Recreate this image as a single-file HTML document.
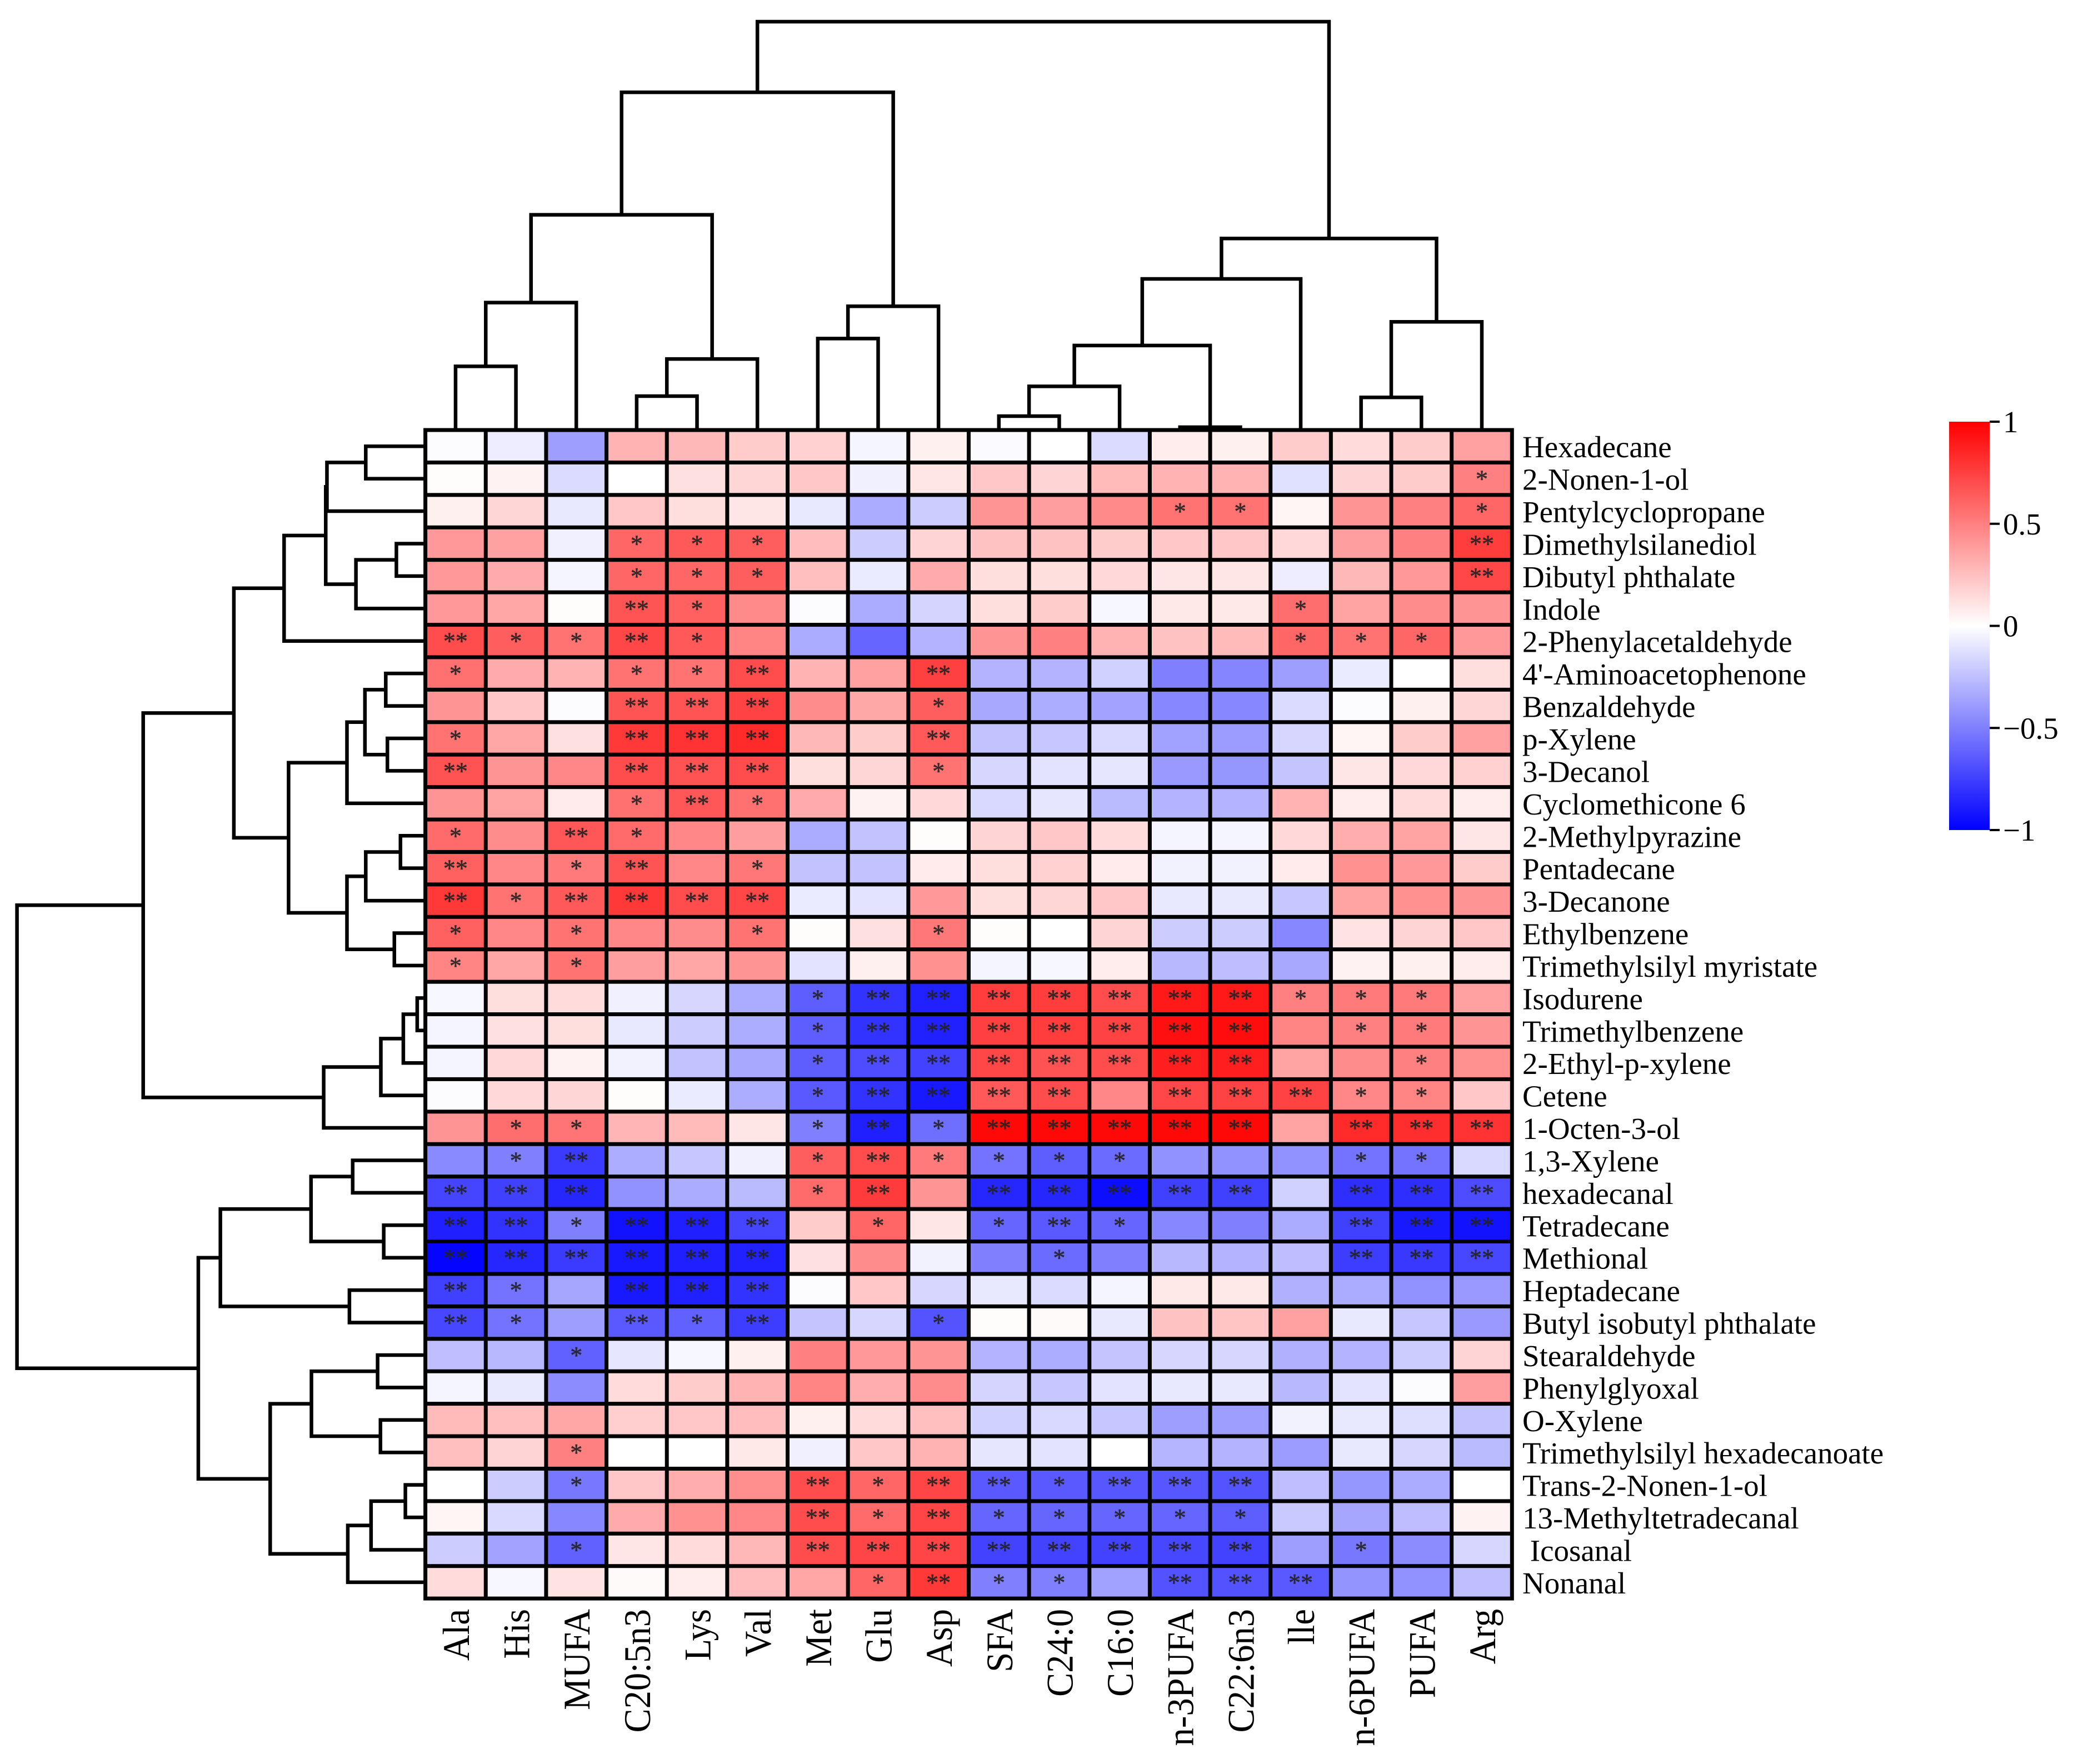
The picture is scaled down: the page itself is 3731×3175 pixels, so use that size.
<!DOCTYPE html>
<html>
<head>
<meta charset="utf-8">
<title>Clustered correlation heatmap</title>
<style>
html,body{margin:0;padding:0;background:#fff;}
svg{display:block;}
text{font-family:"Liberation Serif",serif;fill:#000;}
.rowl{font-size:55px;white-space:pre;}
.coll{font-size:68px;}
.tick{font-size:55px;}
.star{font-size:44px;fill:#222;fill-opacity:.9;stroke:#222;stroke-opacity:.7;stroke-width:.7px;text-anchor:middle;}
</style>
</head>
<body>
<svg id="chart" xmlns="http://www.w3.org/2000/svg" width="3731" height="3175" viewBox="0 0 3731 3175">
  <defs>
    <linearGradient id="cbgrad" x1="0" y1="0" x2="0" y2="1">
      <stop offset="0" stop-color="#ff0000"/>
      <stop offset="0.5" stop-color="#ffffff"/>
      <stop offset="1" stop-color="#0000ff"/>
    </linearGradient>
  </defs>
  <rect x="0" y="0" width="3731" height="3175" fill="#ffffff"/>
  <g id="topDendro"></g>
  <g id="leftDendro"></g>
  <g id="cells"></g>
  <g id="rowLabels"></g>
  <g id="colLabels"></g>
  <g id="colorbar"></g>
</svg>
<script>
const rowNames = ["Hexadecane","2-Nonen-1-ol","Pentylcyclopropane","Dimethylsilanediol","Dibutyl phthalate","Indole","2-Phenylacetaldehyde","4'-Aminoacetophenone","Benzaldehyde","p-Xylene","3-Decanol","Cyclomethicone 6","2-Methylpyrazine","Pentadecane","3-Decanone","Ethylbenzene","Trimethylsilyl myristate","Isodurene","Trimethylbenzene","2-Ethyl-p-xylene","Cetene","1-Octen-3-ol","1,3-Xylene","hexadecanal","Tetradecane","Methional","Heptadecane","Butyl isobutyl phthalate","Stearaldehyde","Phenylglyoxal","O-Xylene","Trimethylsilyl hexadecanoate","Trans-2-Nonen-1-ol","13-Methyltetradecanal"," Icosanal","Nonanal"];
const colNames = ["Ala","His","MUFA","C20:5n3","Lys","Val","Met","Glu","Asp","SFA","C24:0","C16:0","n-3PUFA","C22:6n3","lle","n-6PUFA","PUFA","Arg"];
const corrValues = [
[-.01,-.07,-.38,.3,.28,.2,.18,-.04,.06,-.02,0,-.14,.07,.06,.2,.14,.2,.37],
[.01,.05,-.14,0,.12,.16,.22,-.06,.1,.22,.17,.27,.3,.3,-.12,.17,.2,.5],
[.06,.16,-.09,.22,.13,.1,-.09,-.33,-.2,.42,.38,.46,.55,.55,.04,.42,.5,.6],
[.4,.37,-.06,.6,.65,.63,.26,-.2,.17,.24,.24,.2,.22,.22,.15,.38,.5,.76],
[.4,.33,-.04,.6,.6,.63,.25,-.08,.33,.13,.13,.15,.1,.1,-.07,.28,.4,.72],
[.4,.35,.01,.67,.62,.46,-.01,-.33,-.17,.13,.2,-.03,.09,.09,.57,.36,.45,.42],
[.7,.63,.55,.72,.65,.48,-.33,-.6,-.3,.42,.5,.3,.24,.27,.6,.55,.6,.4],
[.56,.33,.3,.55,.55,.7,.3,.37,.75,-.3,-.3,-.18,-.5,-.48,-.38,-.08,0,.13],
[.42,.22,-.01,.67,.67,.74,.45,.34,.63,-.34,-.32,-.36,-.47,-.47,-.14,-.01,.06,.16],
[.55,.35,.12,.78,.8,.83,.28,.2,.65,-.24,-.22,-.15,-.37,-.39,-.16,.04,.2,.37],
[.68,.42,.47,.7,.68,.7,.13,.16,.55,-.16,-.11,-.1,-.4,-.41,-.23,.1,.15,.18],
[.42,.36,.08,.56,.66,.56,.33,.05,.15,-.15,-.1,-.27,-.3,-.3,.3,.07,.14,.07],
[.58,.45,.66,.58,.47,.38,-.33,-.24,.01,.17,.22,.14,-.04,-.04,.15,.32,.36,.1],
[.62,.47,.52,.67,.47,.53,-.24,-.24,.08,.13,.18,.08,-.05,-.05,.08,.43,.4,.2],
[.78,.55,.65,.78,.7,.72,-.08,-.11,.4,.13,.16,.22,-.09,-.09,-.22,.36,.43,.42],
[.62,.47,.55,.47,.45,.55,.01,.12,.53,.01,0,.17,-.2,-.2,-.47,.11,.17,.22],
[.48,.35,.55,.38,.35,.42,-.11,.06,.43,-.04,-.03,.07,-.28,-.26,-.34,.05,.06,.07],
[-.03,.13,.14,-.06,-.16,-.33,-.63,-.8,-.87,.76,.76,.7,.9,.9,.5,.52,.52,.37],
[-.04,.12,.13,-.09,-.2,-.32,-.63,-.8,-.87,.75,.76,.74,.94,.95,.48,.5,.52,.42],
[-.04,.15,.05,-.05,-.24,-.34,-.63,-.7,-.74,.72,.68,.7,.88,.88,.36,.45,.5,.43],
[-.01,.15,.16,.01,-.08,-.32,-.65,-.8,-.9,.65,.7,.47,.72,.74,.74,.47,.48,.22],
[.42,.57,.54,.29,.27,.1,-.5,-.88,-.57,.97,.97,.97,.97,.97,.36,.83,.82,.8],
[-.46,-.5,-.77,-.32,-.22,-.06,.63,.7,.52,-.55,-.63,-.58,-.43,-.43,-.43,-.55,-.55,-.15],
[-.73,-.75,-.85,-.43,-.33,-.27,.58,.77,.42,-.85,-.85,-.95,-.75,-.75,-.18,-.82,-.82,-.7],
[-.88,-.8,-.5,-.93,-.88,-.73,.2,.6,.1,-.6,-.65,-.6,-.47,-.5,-.33,-.75,-.9,-.93],
[-.98,-.85,-.77,-.9,-.88,-.87,.12,.45,-.05,-.5,-.58,-.5,-.28,-.3,-.26,-.76,-.78,-.72],
[-.75,-.55,-.35,-.9,-.87,-.8,-.01,.22,-.16,-.09,-.14,-.04,.09,.09,-.31,-.33,-.43,-.4],
[-.72,-.55,-.38,-.65,-.62,-.76,-.23,-.16,-.67,.01,.02,-.09,.24,.23,.37,-.09,-.22,-.4],
[-.25,-.28,-.62,-.1,-.03,.06,.5,.4,.42,-.3,-.32,-.23,-.16,-.16,-.31,-.3,-.2,.17],
[-.04,-.09,-.45,.14,.2,.3,.48,.32,.45,-.17,-.22,-.11,-.09,-.09,-.28,-.11,-.01,.38],
[.27,.25,.35,.19,.22,.26,.06,.14,.25,-.18,-.15,-.22,-.38,-.38,-.05,-.09,-.13,-.24],
[.25,.17,.5,0,0,.09,-.06,.22,.3,-.1,-.11,0,-.29,-.3,-.39,-.09,-.16,-.27],
[0,-.2,-.53,.22,.32,.44,.7,.6,.73,-.65,-.65,-.66,-.66,-.67,-.25,-.41,-.33,0],
[.04,-.15,-.47,.33,.43,.47,.7,.58,.73,-.6,-.6,-.6,-.6,-.63,-.21,-.35,-.26,.05],
[-.2,-.36,-.62,.1,.14,.28,.7,.73,.73,-.74,-.74,-.74,-.72,-.74,-.38,-.53,-.45,-.16],
[.14,-.03,.11,.02,.07,.26,.35,.6,.78,-.5,-.5,-.37,-.68,-.68,-.65,-.42,-.43,-.25]
];
const sigCodes = [
"000000000000000000","000000000000000001","000000000000110001","000111000000000002",
"000111000000000002","000210000000001000","211210000000001110","100112002000000000",
"000222001000000000","100222002000000000","200222001000000000","000121000000000000",
"102100000000000000","201201000000000000","212222000000000000","101001001000000000",
"101000000000000000","000000122222221110","000000122222220110","000000122222220010",
"000000122220222110","011000121222220222","012000121111000110","222000120222220222",
"221222010121000222","222222000010000222","210222000000000000","210212001000000000",
"001000000000000000","000000000000000000","000000000000000000","001000000000000000",
"001000212212220000","000000212111110000","001000222222220100","000000012110222000"
];
/* column dendrogram: numeric ids are leaves, letters are merges defined earlier in the list */
const colMergeNames  = ["a","b","c","d","e","f","g","h","i","j","k","l","m","n","o","p","q"];
const colMergeLeft   = ["0","a","3","c","b","6","f","e","9","i","12","j","l","15","n","m","h"];
const colMergeRight  = ["1","2","4","5","d","7","8","g","10","11","13","k","14","16","17","o","p"];
const colMergeHeight = [.156,.312,.083,.174,.527,.224,.303,.827,.034,.107,.007,.207,.370,.080,.265,.469,1];
/* row dendrogram */
const rowMergeNames = ["A","B","C","D","E","F","G","H","I","J","K","N","L","M","O","P","R","S","T","U","V","W","X","Y","Z","AA","AB","AC","AD","AE","AF","AG","AH","AI","ROOT"];
const rowMergeLeft  = ["0","A","3","C","B","E","7","9","G","I","12","15","K","L","J","F","17","R","S","T","P","22","24","W","26","Y","28","30","AB","32","AE","AF","AD","AA","V"];
const rowMergeRight = ["1","2","4","5","D","6","8","10","H","11","13","16","14","N","M","O","18","19","20","21","U","23","25","X","27","Z","29","31","AC","33","34","35","AG","AH","AI"];
const rowMergeHeight = [.146,.241,.071,.170,.244,.346,.097,.093,.148,.192,.061,.076,.146,.192,.335,.469,.020,.054,.109,.249,.691,.178,.102,.280,.186,.502,.117,.110,.279,.049,.133,.190,.380,.556,1];
const colorbarTicks = [1,0.5,0,-0.5,-1];
const colorbarLabels = ["1","0.5","0","\u22120.5","\u22121"];

const NS = "http://www.w3.org/2000/svg";
const X0 = 765.6, Y0 = 774, CW = 108.65, CH = 58.42;
const DEND_SPAN = 735;
function colX(i){ return X0 + (i + .5) * CW; }
function rowY(i){ return Y0 + (i + .5) * CH; }
function dendY(h){ return Y0 - h * DEND_SPAN; }
function dendX(h){ return X0 - h * DEND_SPAN; }
function cbY(v){ return 1126.5 - v * 367.5; }
function valueColor(v){
  const c = Math.round(255 * (1 - Math.abs(v)));
  return v >= 0 ? "rgb(255," + c + "," + c + ")" : "rgb(" + c + "," + c + ",255)";
}
function mk(tag, attrs, parent){
  const e = document.createElementNS(NS, tag);
  for (const k in attrs) e.setAttribute(k, attrs[k]);
  parent.appendChild(e);
  return e;
}

/* heatmap */
const cellsG = document.getElementById("cells");
const gridBg = mk("rect", {x:X0-3.5, y:Y0-3.5, width:CW*18+7, height:CH*36+7, fill:"#000"}, cellsG);


corrValues.forEach(function(row, r){
  row.forEach(function(v, c){
    const cell = mk("rect", {x:X0+c*CW+3.5, y:Y0+r*CH+3.5, width:CW-7, height:CH-7, fill:valueColor(v)}, cellsG);
    
    
    const s = +sigCodes[r][c];
    if (s > 0) {
      const st = mk("text", {x:colX(c), y:rowY(r)+15, "class":"star"}, cellsG);
      
      
      st.textContent = s === 2 ? "**" : "*";
    }
  });
});

/* labels */
const rowG = document.getElementById("rowLabels");
rowNames.forEach(function(n, r){
  const t = mk("text", {x:2740, y:rowY(r)+20, "class":"rowl"}, rowG);
  
  
  t.textContent = n;
});
const colG = document.getElementById("colLabels");
colNames.forEach(function(n, c){
  const x = colX(c) + 24;
  const t = mk("text", {x:0, y:0, "class":"coll", "text-anchor":"end", transform:"translate(" + x + " 2896) rotate(-90) scale(.95 1)"}, colG);
  
  
  t.textContent = n;
});

/* column dendrogram */
const topG = document.getElementById("topDendro");
const topNodes = {};
function topNode(id){
  if (/^\d+$/.test(id)) return {x:colX(+id), h:0};
  return topNodes[id];
}
colMergeNames.forEach(function(name, i){
  const na = topNode(colMergeLeft[i]), nb = topNode(colMergeRight[i]);
  const h = colMergeHeight[i];
  const p = mk("path", {d:"M"+na.x+" "+dendY(na.h)+"V"+dendY(h)+"H"+nb.x+"V"+dendY(nb.h), fill:"none", stroke:"#000", "stroke-width":6.5}, topG);
  
  
  topNodes[name] = {x:(na.x+nb.x)/2, h:h};
});

/* row dendrogram */
const leftG = document.getElementById("leftDendro");
const rowNodes = {};
function rowNode(id){
  if (/^\d+$/.test(id)) return {y:rowY(+id), h:0};
  return rowNodes[id];
}
rowMergeNames.forEach(function(name, i){
  const na = rowNode(rowMergeLeft[i]), nb = rowNode(rowMergeRight[i]);
  const h = rowMergeHeight[i];
  const x = dendX(h);
  const p = mk("path", {d:"M"+dendX(na.h)+" "+na.y+"H"+x+"V"+nb.y+"H"+dendX(nb.h), fill:"none", stroke:"#000", "stroke-width":6.5}, leftG);
  
  
  rowNodes[name] = {y:(na.y+nb.y)/2, h:h};
});

/* colorbar */
const cbG = document.getElementById("colorbar");
const cbRect = mk("rect", {x:3508, y:cbY(1), width:73, height:cbY(-1)-cbY(1), fill:"url(#cbgrad)"}, cbG);


colorbarTicks.forEach(function(v, i){
  const y = cbY(v);
  const l = mk("line", {x1:3581, x2:3599, y1:y, y2:y, stroke:"#000", "stroke-width":4}, cbG);
  
  
  const t = mk("text", {x:3605, y:y+19, "class":"tick"}, cbG);
  
  
  t.textContent = colorbarLabels[i];
});
</script>
</body>
</html>
